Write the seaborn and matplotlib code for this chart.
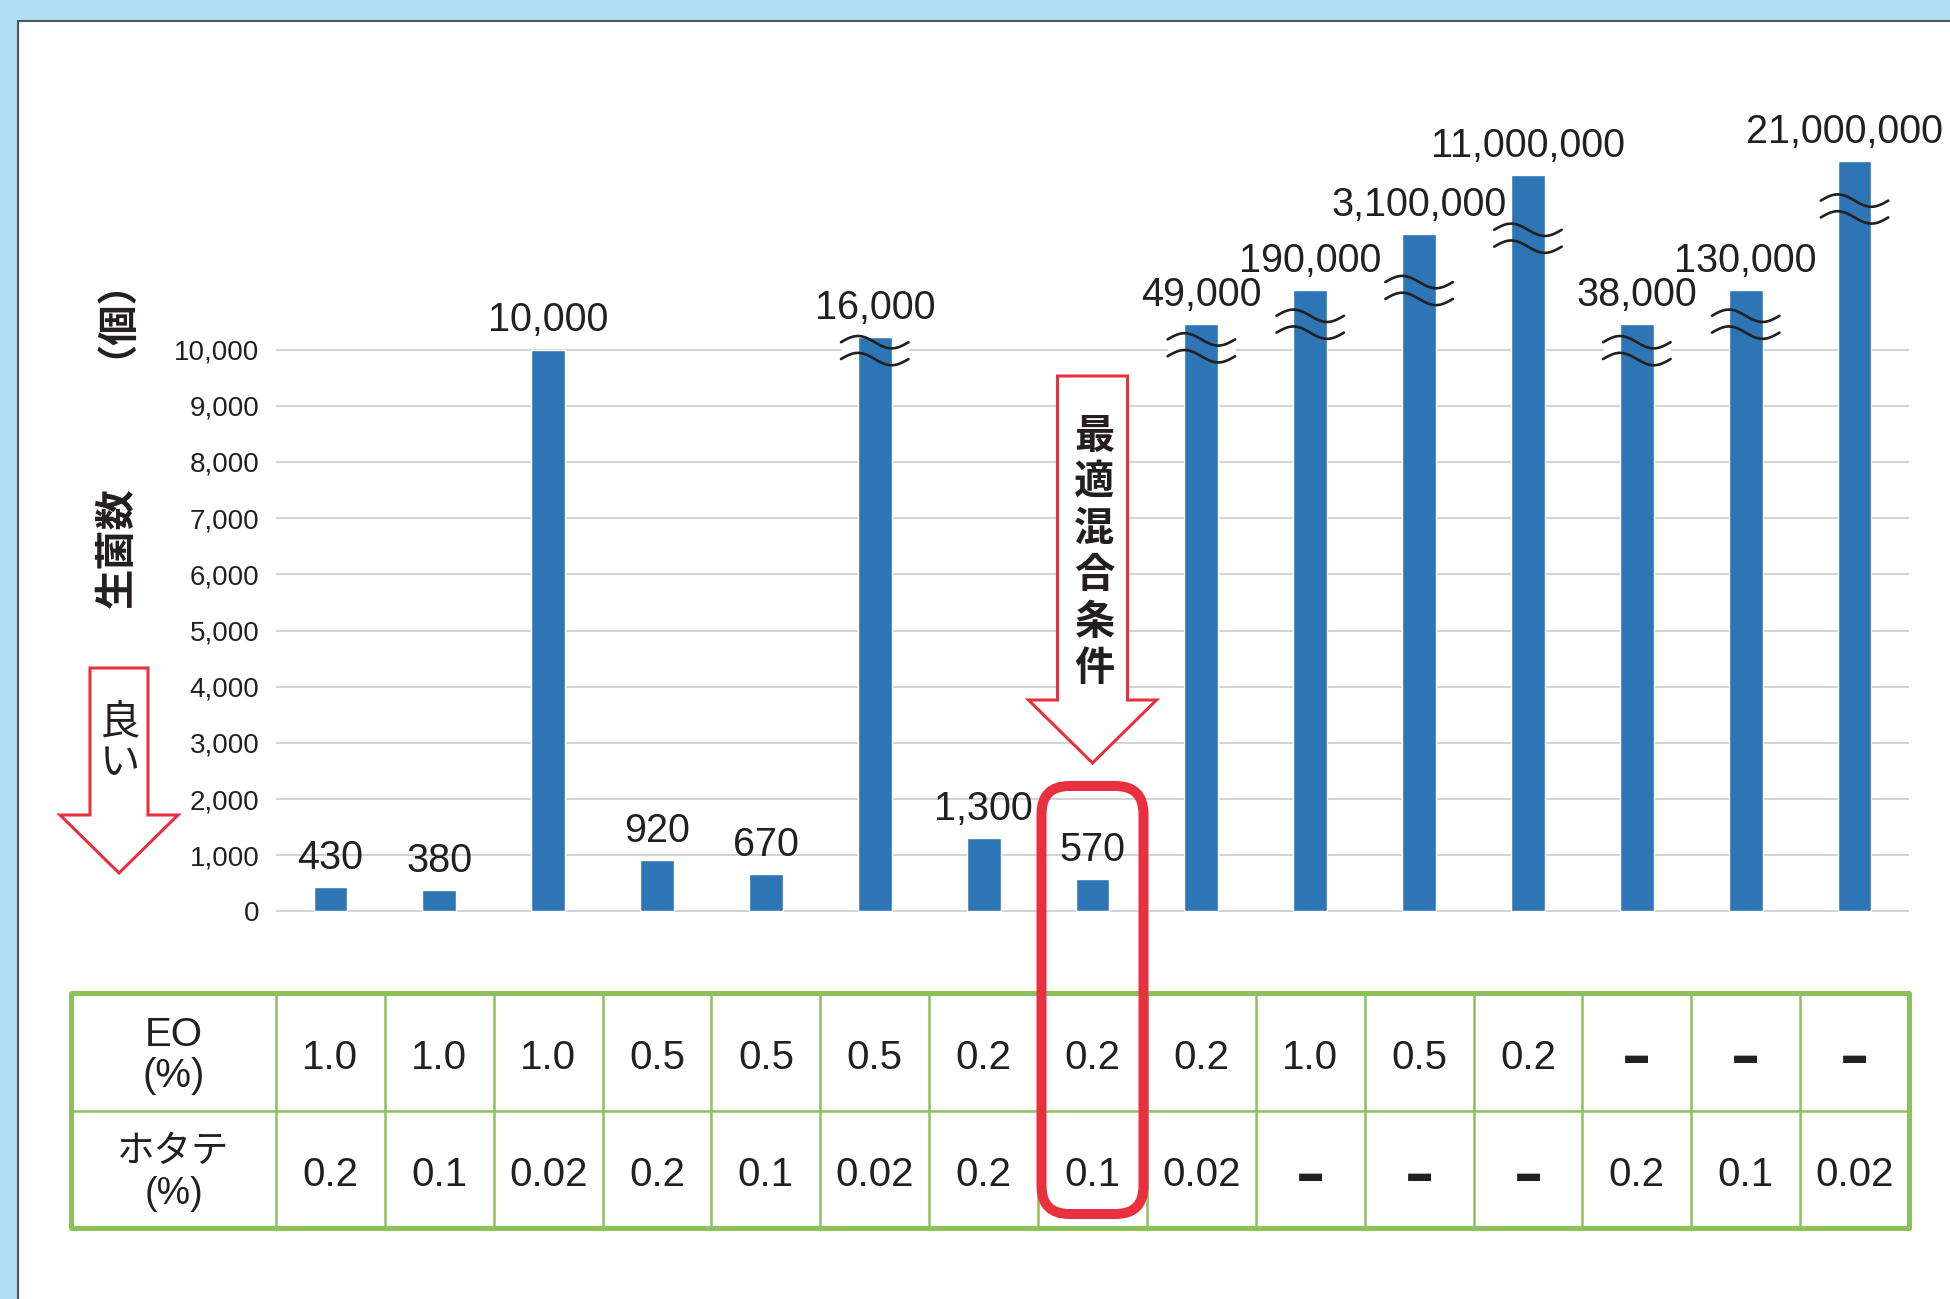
import numpy as np
import pandas as pd
import matplotlib.pyplot as plt
import seaborn as sns
from matplotlib.patches import Rectangle, Polygon, FancyBboxPatch

# 生菌数（個）
counts = [430, 380, 10000, 920, 670, 16000, 1300, 570, 49000, 190000,
          3100000, 11000000, 38000, 130000, 21000000]
# bar heights as drawn on the 0-10,000 axis (tall bars are cut with a ≈ mark)
bar_heights = [430, 380, 10000, 920, 670, 10220, 1300, 570, 10450, 11050,
               12050, 13100, 10450, 11050, 13350]
# height of the ≈ break on each cut bar
break_at = [None, None, None, None, None, 9980, None, None, 10030, 10450,
            11050, 11980, 9980, 10450, 12500]
eo = ['1.0', '1.0', '1.0', '0.5', '0.5', '0.5', '0.2', '0.2', '0.2',
      '1.0', '0.5', '0.2', '–', '–', '–']
hotate = ['0.2', '0.1', '0.02', '0.2', '0.1', '0.02', '0.2', '0.1', '0.02',
          '–', '–', '–', '0.2', '0.1', '0.02']
yticks = list(range(0, 10001, 1000))
best = 7  # 最適混合条件 (EO 0.2 / ホタテ 0.1)

df = pd.DataFrame({'cond': [f'{a}/{b}' for a, b in zip(eo, hotate)],
                   'height': bar_heights})

BLUE = '#2e75b6'
RED = '#e8303f'
GREEN = '#8cc05c'
TXT = '#231f20'
NUM = ['Liberation Sans', 'DejaVu Sans']
JP = ['Noto Sans CJK JP', 'DejaVu Sans']

sns.set_theme(style='white')
plt.rcParams['font.family'] = ['Liberation Sans', 'Noto Sans CJK JP', 'DejaVu Sans']

W, H = 1950, 1299
fig = plt.figure(figsize=(W / 100, H / 100), dpi=100)
fig.patch.set_facecolor('#b3def2')

# white panel behind everything
bg = fig.add_axes([0, 0, 1, 1], zorder=0)
bg.set_xlim(0, W)
bg.set_ylim(H, 0)
bg.axis('off')
bg.add_patch(Rectangle((18, 21), 2000, 1400, facecolor='white',
                       edgecolor='#4d5459', lw=1.5))

# main chart
y0px, px_per = 911.5, 56.2 / 1000
ymin, ymax = -60, 16000
top_px = y0px - ymax * px_per
bot_px = y0px - ymin * px_per
ax = fig.add_axes([276 / W, (H - bot_px) / H, (1909 - 276) / W, (bot_px - top_px) / H],
                  zorder=1)
ax.patch.set_alpha(0)
sns.barplot(data=df, x='cond', y='height', color=BLUE, saturation=1,
            width=0.31, ax=ax, zorder=2)
ax.set_xlim(-0.5, 14.5)
ax.set_ylim(ymin, ymax)
ax.set_yticks(yticks)
ax.set_yticklabels([f'{t:,}' for t in yticks], fontsize=20, family=NUM)
ax.tick_params(axis='y', length=0, pad=12, colors=TXT)
ax.set_xticks([])
ax.set_xlabel('')
ax.set_ylabel('')
ax.yaxis.grid(True, color='#d3d3d3', lw=1.5)
ax.set_axisbelow(True)
sns.despine(ax=ax, left=True, bottom=True)

# ≈ break marks
for i, b in enumerate(break_at):
    if b is None:
        continue
    xs = np.linspace(i - 0.31, i + 0.31, 80)
    wave = 110 * np.sin(2 * np.pi * (xs - xs[0]) / (xs[-1] - xs[0]))
    lo, hi = b - 150 + wave, b + 150 + wave
    ax.fill_between(xs, lo, hi, color='white', lw=0, zorder=1.5)
    ax.plot(xs, lo, color=TXT, lw=1.9, zorder=3, solid_capstyle='round')
    ax.plot(xs, hi, color=TXT, lw=1.9, zorder=3, solid_capstyle='round')

# value labels (the last one sits a little to the left, as in the source)
label_dx = {14: -7}
for i, (h, c) in enumerate(zip(bar_heights, counts)):
    ax.annotate(f'{c:,}', (i, h), xytext=(label_dx.get(i, 0), 13),
                textcoords='offset points', ha='center', va='baseline',
                fontsize=28.5, color=TXT, family=NUM, annotation_clip=False)

# condition table
hw = (276 - 71) / ((1909 - 276) / 15)
tb = fig.add_axes([71 / W, (H - 1228) / H, (1909 - 71) / W, (1228 - 993) / H], zorder=2)
tb.set_xlim(-0.5 - hw, 14.5)
tb.set_ylim(2, 0)
tb.axis('off')
tb.vlines([k - 0.5 for k in range(15)], 0, 2, color=GREEN, lw=1.8)
tb.hlines(1, -0.5 - hw, 14.5, color=GREEN, lw=1.8)
tb.add_patch(Rectangle((-0.5 - hw, 0), hw + 15, 2, fill=False, edgecolor=GREEN,
                       lw=3.6, clip_on=False, joinstyle='round'))
tb.text(-0.5 - hw / 2, 0.53, 'EO\n(%)', ha='center', va='center', fontsize=29,
        color=TXT, family=NUM, linespacing=1.1)
tb.text(-0.5 - hw / 2, 1.53, 'ホタテ\n(%)', ha='center', va='center', fontsize=27,
        color=TXT, family=['Liberation Sans', 'Noto Sans CJK JP'], linespacing=1.2)
for row, vals in enumerate([eo, hotate]):
    for i, v in enumerate(vals):
        if v == '–':
            tb.text(i, row + 0.56, v, ha='center', va='center', fontsize=42,
                    fontweight='bold', color=TXT, family=['DejaVu Sans'])
        else:
            tb.text(i, row + 0.55, v, ha='center', va='center', fontsize=29,
                    color=TXT, family=NUM)

# annotations on top
fg = fig.add_axes([0, 0, 1, 1], zorder=3)
fg.set_xlim(0, W)
fg.set_ylim(H, 0)
fg.axis('off')
fg.patch.set_alpha(0)

fg.text(95, 298, '（個）', rotation=90, ha='center', va='center', fontsize=29,
        fontweight='bold', color=TXT, family=JP)
fg.text(117, 548, '生菌数', rotation=90, ha='center', va='center', fontsize=29,
        fontweight='bold', color=TXT, family=JP)

# 良い arrow
cx = 119
fg.add_patch(Polygon([(cx - 29, 668), (cx + 29, 668), (cx + 29, 815), (cx + 59, 815),
                      (cx, 873), (cx - 59, 815), (cx - 29, 815)],
                     closed=True, facecolor='white', edgecolor=RED, lw=2.2))
for k, ch in enumerate('良い'):
    fg.text(cx + 1, 723 + k * 40, ch, ha='center', va='center', fontsize=29,
            color=TXT, family=JP)

# 最適混合条件 arrow and frame around the best column
bx = ax.transData.transform((best, 0))[0]
fg.add_patch(Polygon([(bx - 35, 376), (bx + 35, 376), (bx + 35, 700), (bx + 64, 700),
                      (bx, 763), (bx - 64, 700), (bx - 35, 700)],
                     closed=True, facecolor='white', edgecolor=RED, lw=2.2))
for k, ch in enumerate('最適混合条件'):
    fg.text(bx + 2, 436 + k * 46.5, ch, ha='center', va='center', fontsize=29,
            fontweight='bold', color=TXT, family=JP)
fg.add_patch(FancyBboxPatch((bx - 51, 786), 102, 428,
                            boxstyle='round,pad=0,rounding_size=28',
                            fill=False, edgecolor=RED, lw=7.2))

fig.savefig('out.png', dpi=100)
